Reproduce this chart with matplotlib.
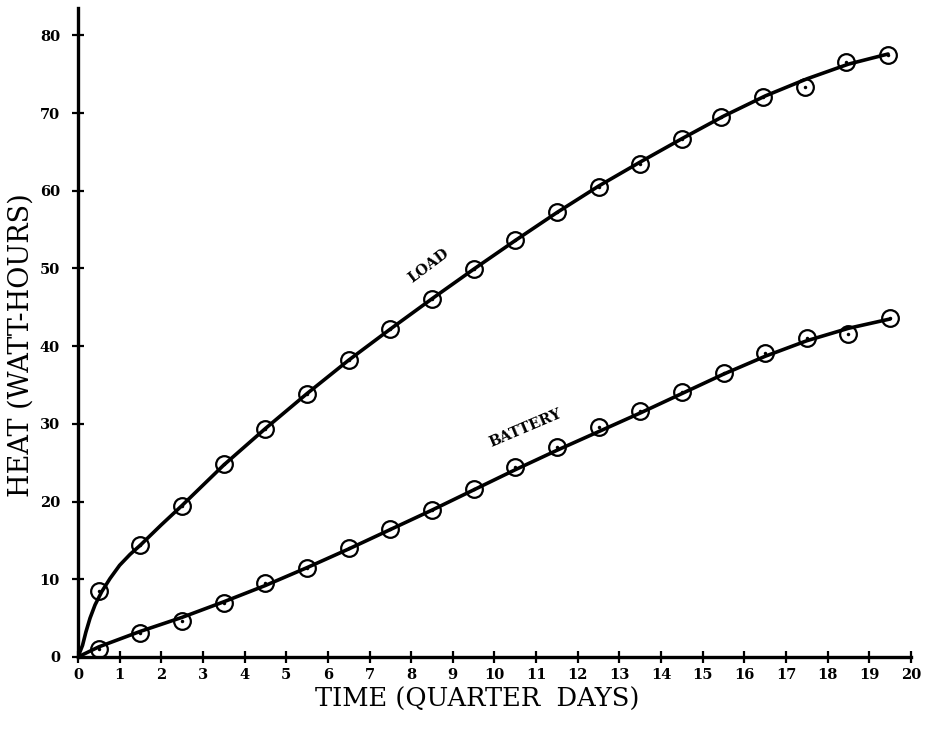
import numpy as np
import matplotlib
matplotlib.use("Agg")
import matplotlib.pyplot as plt

# measured points (circles)
load_x = [0.5, 1.5, 2.5, 3.5, 4.5, 5.5, 6.5, 7.5, 8.5, 9.5,
          10.5, 11.5, 12.5, 13.5, 14.5, 15.45, 16.45, 17.45, 18.45, 19.45]
load_y = [8.5, 14.4, 19.4, 24.8, 29.3, 33.9, 38.2, 42.2, 46.1, 49.9,
          53.6, 57.3, 60.5, 63.5, 66.6, 69.5, 72.1, 73.4, 76.6, 77.5]

battery_x = [0.5, 1.5, 2.5, 3.5, 4.5, 5.5, 6.5, 7.5, 8.5, 9.5,
             10.5, 11.5, 12.5, 13.5, 14.5, 15.5, 16.5, 17.5, 18.5, 19.5]
battery_y = [1.0, 3.1, 4.6, 6.9, 9.5, 11.4, 14.0, 16.5, 18.9, 21.6,
             24.4, 27.0, 29.6, 31.7, 34.1, 36.5, 39.1, 41.0, 41.6, 43.6]

# hand-drawn smooth curves
load_curve_x = [0, 0.11, 0.19, 0.29, 0.41, 0.57, 0.77, 1.0, 1.25, 1.5, 2.0,
                2.5, 3.0, 3.5, 4.5, 5.5, 6.5, 7.5, 8.5, 9.5, 10.5, 11.5,
                12.5, 13.5, 14.5, 15.5, 16.5, 17.5, 18.5, 19.45]
load_curve_y = [0, 1.5, 3.2, 5.0, 6.7, 8.4, 10.1, 11.8, 13.2, 14.4, 17.0,
                19.5, 22.1, 24.7, 29.4, 33.9, 38.2, 42.2, 46.1, 49.9, 53.6, 57.2,
                60.6, 63.7, 66.7, 69.6, 72.2, 74.4, 76.3, 77.6]

battery_curve_x = [0, 0.5, 1.5, 2.5, 3.5, 4.5, 5.5, 6.5, 7.5, 8.5, 9.5, 10.5,
                   11.5, 12.5, 13.5, 14.5, 15.5, 16.5, 17.5, 18.5, 19.5]
battery_curve_y = [0, 1.3, 3.3, 5.1, 7.1, 9.2, 11.5, 13.9, 16.4, 18.9, 21.5, 24.1,
                   26.6, 29.0, 31.4, 33.9, 36.4, 38.7, 40.7, 42.3, 43.5]

x_ticks = list(range(0, 21))
y_ticks = list(range(0, 81, 10))

serif = ['DejaVu Serif']

fig = plt.figure(figsize=(9.27, 7.29), dpi=100)
ax = fig.add_axes([0.0841, 0.0988, 0.8986, 0.89])

for cx, cy in [(load_curve_x, load_curve_y), (battery_curve_x, battery_curve_y)]:
    ax.plot(cx, cy, color='black', lw=2.6, solid_capstyle='round',
            solid_joinstyle='round', zorder=3)

for px, py in [(load_x, load_y), (battery_x, battery_y)]:
    ax.plot(px, py, ls='none', marker='o', ms=12, mfc='none',
            mec='black', mew=1.6, zorder=4)
    ax.plot(px, py, ls='none', marker='o', ms=2.5, mfc='black',
            mec='black', mew=0, zorder=4)

ax.text(8.42, 50.4, 'LOAD', rotation=37, rotation_mode='anchor',
        ha='center', va='center', fontsize=10.5, fontweight='bold',
        family=serif)
ax.text(10.75, 29.4, 'BATTERY', rotation=23, rotation_mode='anchor',
        ha='center', va='center', fontsize=10.5, fontweight='bold',
        family=serif)

ax.set_xlim(0, 20)
ax.set_ylim(0, 83.5)
ax.set_xticks(x_ticks)
ax.set_yticks(y_ticks)
ax.set_xticklabels([str(t) for t in x_ticks], fontsize=10.5,
                   fontweight='bold', family=serif)
ax.set_yticklabels([str(t) for t in y_ticks], fontsize=10.5,
                   fontweight='bold', family=serif)
ax.tick_params(direction='inout', length=8, width=1.6, color='black')
ax.tick_params(axis='x', pad=4)
ax.tick_params(axis='y', pad=9)

for side in ['top', 'right']:
    ax.spines[side].set_visible(False)
for side in ['left', 'bottom']:
    ax.spines[side].set_linewidth(2.4)

ax.set_xlabel('TIME (QUARTER  DAYS)', fontsize=18.5, family=serif)
ax.set_ylabel('HEAT (WATT-HOURS)', fontsize=19.5, family=serif)
ax.xaxis.set_label_coords(0.479, -0.046)
ax.yaxis.set_label_coords(-0.068, 0.48)
ax.xaxis.label.set_va('top')
ax.yaxis.label.set_va('center')

fig.savefig('out.png', dpi=100)
